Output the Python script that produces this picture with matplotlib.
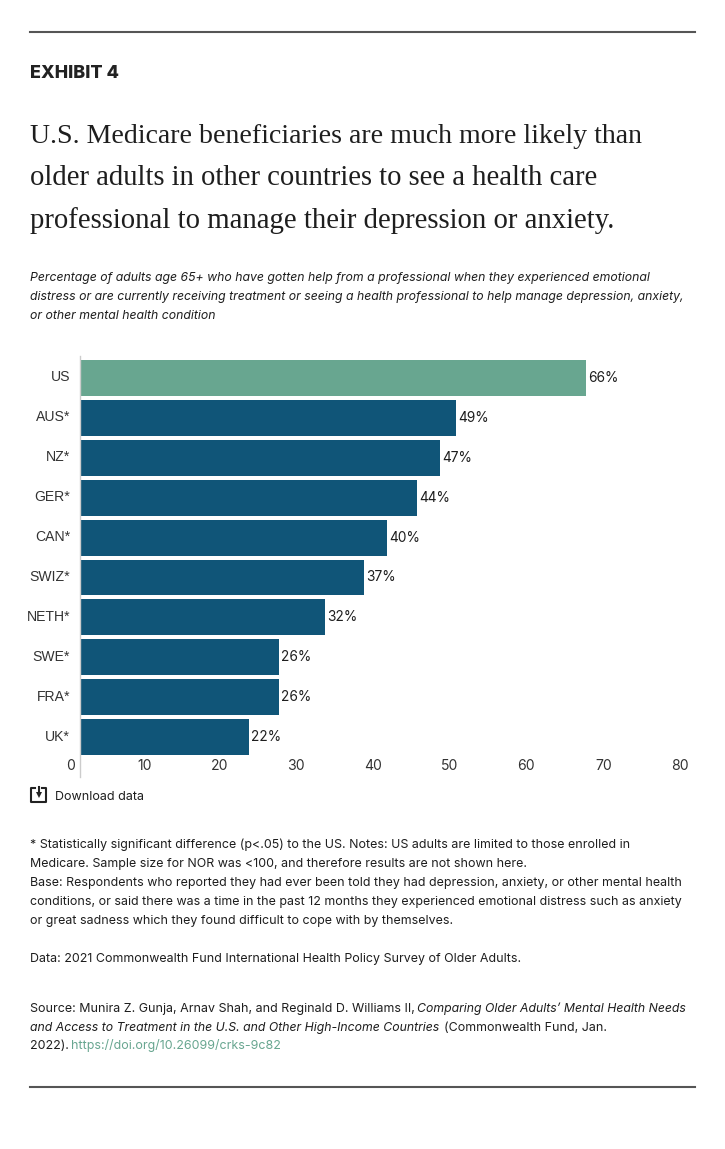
import matplotlib
matplotlib.use('Agg')
import matplotlib.pyplot as plt
from matplotlib.lines import Line2D
from matplotlib.transforms import ScaledTranslation

W, H = 725, 1149

countries = ['US', 'AUS*', 'NZ*', 'GER*', 'CAN*', 'SWIZ*', 'NETH*', 'SWE*', 'FRA*', 'UK*']
values = [66, 49, 47, 44, 40, 37, 32, 26, 26, 22]
xticks = [0, 10, 20, 30, 40, 50, 60, 70, 80]

green = '#68a690'
blue = '#105578'
dark = '#1e1e1e'

title_lines = ['U.S. Medicare beneficiaries are much more likely than',
               'older adults in other countries to see a health care',
               'professional to manage their depression or anxiety.']
sub_lines = ['Percentage of adults age 65+ who have gotten help from a professional when they experienced emotional',
             'distress or are currently receiving treatment or seeing a health professional to help manage depression, anxiety,',
             'or other mental health condition']
note_lines = ['* Statistically significant difference (p<.05) to the US. Notes: US adults are limited to those enrolled in',
              'Medicare. Sample size for NOR was <100, and therefore results are not shown here.',
              'Base: Respondents who reported they had ever been told they had depression, anxiety, or other mental health',
              'conditions, or said there was a time in the past 12 months they experienced emotional distress such as anxiety',
              'or great sadness which they found difficult to cope with by themselves.',
              'Data: 2021 Commonwealth Fund International Health Policy Survey of Older Adults.']

plt.rcParams['font.family'] = ['Inter', 'DejaVu Sans']


def px(size):
    return size * 0.72


def put(x, y, s, size=12.45, **kw):
    kw.setdefault('color', dark)
    return fig.text(x / W, 1 - y / H, s, fontsize=px(size), va='baseline', **kw)


def rule(y):
    fig.add_artist(Line2D([30 / W, 695 / W], [1 - y / H, 1 - y / H], color='#555555', lw=1.5))


def fline(xs, ys, **kw):
    fig.add_artist(Line2D([x / W for x in xs], [1 - y / H for y in ys], color='#222222', **kw))


fig = plt.figure(figsize=(W / 100, H / 100), dpi=100)

rule(32)
rule(1087)
put(30, 78, 'EXHIBIT 4', size=18, fontweight='heavy', color='#222222')

# the original serif runs a bit wider on the lower lines
for y, size, line in zip([143, 185, 228], [27.9, 28.6, 28.7], title_lines):
    put(30, y, line, size=size, family=['Liberation Serif'])

for y, line in zip([281, 300, 319], sub_lines):
    put(30, y, line, size=12.27, style='italic')

ax = fig.add_axes([80 / W, 1 - 777 / H, (693.5 - 80) / W, (777 - 356) / H])
colors = [green] + [blue] * (len(values) - 1)
bars = ax.barh(range(len(values)), values, height=0.9, color=colors)
labels = ax.bar_label(bars, labels=['%d%%' % v for v in values], padding=px(2), fontsize=px(13.7), color=dark)
up2 = ScaledTranslation(0, 2 / 100, fig.dpi_scale_trans)
for lab in labels:
    lab.set_transform(lab.get_transform() + up2)

ax.set_xlim(0, 80)
ax.set_ylim(10.0, -0.551)
ax.set_yticks(range(len(values)))
ax.set_yticklabels(countries, family=['Liberation Sans'])
ax.set_xticks(xticks)
ax.tick_params(axis='y', length=0, pad=px(10), labelsize=px(14), labelcolor='#333333')
ax.tick_params(axis='x', length=0, pad=-px(18), labelsize=px(14), labelcolor='#333333')
# axis numbers sit to the left of their gridline position in the original
shift = ScaledTranslation(-5 / 100, 0, fig.dpi_scale_trans)
for lab in ax.get_xticklabels():
    lab.set_ha('right')
    lab.set_transform(lab.get_transform() + shift)
for lab in ax.get_yticklabels():
    lab.set_transform(lab.get_transform() + up2)
for name in ['top', 'right', 'bottom']:
    ax.spines[name].set_visible(False)
ax.spines['left'].set_color('#cccccc')
ax.spines['left'].set_linewidth(1)
ax.patch.set_alpha(0)

# download icon
fline([35, 31, 31, 46, 46, 42], [788, 788, 802, 802, 788, 788], lw=1.5, solid_joinstyle='round')
fline([38.5, 38.5], [787, 794], lw=1.5)
fline([38.5], [794.5], marker='v', ms=5, mew=0)
put(55.5, 800, 'Download data', size=12.5)

for y, line in zip([848, 867, 886, 905, 924, 962], note_lines):
    put(30, y, line)

put(30, 1012, 'Source: Munira Z. Gunja, Arnav Shah, and Reginald D. Williams II,')
put(417, 1012, 'Comparing Older Adults\u2019 Mental Health Needs', size=12.27, style='italic')
put(30, 1031, 'and Access to Treatment in the U.S. and Other High-Income Countries', size=12.27, style='italic')
put(444, 1031, '(Commonwealth Fund, Jan.')
put(30, 1049, '2022).')
put(71, 1049, 'https://doi.org/10.26099/crks-9c82', color=green)

fig.savefig('out.png', dpi=100)
